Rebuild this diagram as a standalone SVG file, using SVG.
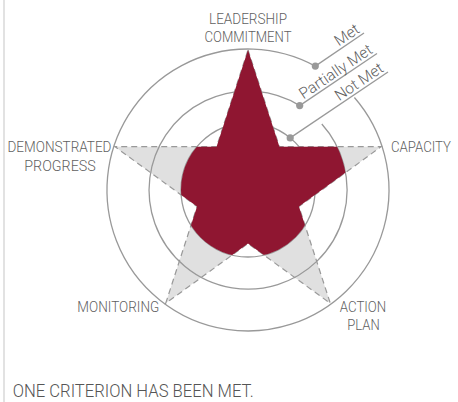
<svg xmlns="http://www.w3.org/2000/svg" width="458" height="402" viewBox="0 0 458 402">
<style>
.lbl{font-family:Roboto,"Liberation Sans",sans-serif;font-size:14px;font-weight:300;fill:#5f5f5f}
.ring{fill:none;stroke:#999;stroke-width:1.3}
.lead{fill:none;stroke:#999;stroke-width:1.3}
.dot{fill:#999}
</style>
<defs>
<clipPath id="redclip">
<circle cx="248" cy="190" r="67"/>
<path d="M248,190 L306.2,109.9 A99,99 0 0 1 342.2,220.6 Z"/>
<path d="M248,190 L154,60.6 A160,160 0 0 1 342,60.6 Z"/>
</clipPath>
</defs>
<rect x="0" y="0" width="458" height="402" fill="#fff"/>
<rect x="3" y="0" width="2" height="402" fill="#e2e2e2"/>
<g id="area-potential">
<polygon points="248,50 279.4,146.7 381.1,146.7 298.9,206.5 330.3,303.3 248,243.5 165.7,303.3 197.1,206.5 114.9,146.7 216.6,146.7" fill="#e0e0e0" stroke="#999" stroke-width="1.2" stroke-dasharray="6,4"/>
</g>
<g id="rings">
<path class="ring" d="M315.3,66.1 A141,141 0 1 0 354.4,97.5"/>
<path class="ring" d="M299.7,105.6 A99,99 0 1 0 321.8,124"/>
<circle class="ring" cx="248" cy="190" r="67"/>
</g>
<g id="area-score">
<polygon points="248,50 279.4,146.7 381.1,146.7 298.9,206.5 330.3,303.3 248,243.5 165.7,303.3 197.1,206.5 114.9,146.7 216.6,146.7" fill="#8f1631" clip-path="url(#redclip)"/>
</g>
<g id="connectors">
<line class="lead" x1="315.3" y1="66.1" x2="364" y2="33"/>
<line class="lead" x1="299.7" y1="105.6" x2="377" y2="53.5"/>
<line class="lead" x1="290.2" y1="137.9" x2="388" y2="72"/>
<circle class="dot" cx="315.3" cy="66.1" r="3.6"/>
<circle class="dot" cx="299.7" cy="105.6" r="3.6"/>
<circle class="dot" cx="290.2" cy="137.9" r="3.6"/>
</g>
<g id="legend-met"><text class="lbl" style="font-size:15.5px" text-anchor="end" transform="translate(364,33) rotate(-34)" x="-2" y="-3">Met</text></g>
<g id="legend-partially-met"><text class="lbl" style="font-size:15.5px" text-anchor="end" transform="translate(377,53.5) rotate(-34)" x="-2" y="-3">Partially Met</text></g>
<g id="legend-not-met"><text class="lbl" style="font-size:15.5px" text-anchor="end" transform="translate(388,72) rotate(-34)" x="-2" y="-3">Not Met</text></g>
<g id="node-leadership">
<text class="lbl" x="248" y="24" text-anchor="middle" textLength="78" lengthAdjust="spacingAndGlyphs">LEADERSHIP</text>
<text class="lbl" x="248" y="42" text-anchor="middle" textLength="87" lengthAdjust="spacingAndGlyphs">COMMITMENT</text>
</g>
<g id="node-capacity">
<text class="lbl" x="391" y="152" textLength="60" lengthAdjust="spacingAndGlyphs">CAPACITY</text>
</g>
<g id="node-action-plan">
<text class="lbl" x="363" y="311.7" text-anchor="middle" textLength="46.5" lengthAdjust="spacingAndGlyphs">ACTION</text>
<text class="lbl" x="363.5" y="330" text-anchor="middle" textLength="32.5" lengthAdjust="spacingAndGlyphs">PLAN</text>
</g>
<g id="node-monitoring">
<text class="lbl" x="159.3" y="311.7" text-anchor="end" textLength="82" lengthAdjust="spacingAndGlyphs">MONITORING</text>
</g>
<g id="node-demonstrated-progress">
<text class="lbl" x="59.5" y="152.3" text-anchor="middle" textLength="104" lengthAdjust="spacingAndGlyphs">DEMONSTRATED</text>
<text class="lbl" x="60" y="170.7" text-anchor="middle" textLength="71.5" lengthAdjust="spacingAndGlyphs">PROGRESS</text>
</g>
<text class="lbl" style="font-size:18.5px;fill:#555" x="12.7" y="396.7" textLength="241" lengthAdjust="spacingAndGlyphs">ONE CRITERION HAS BEEN MET.</text>
</svg>
